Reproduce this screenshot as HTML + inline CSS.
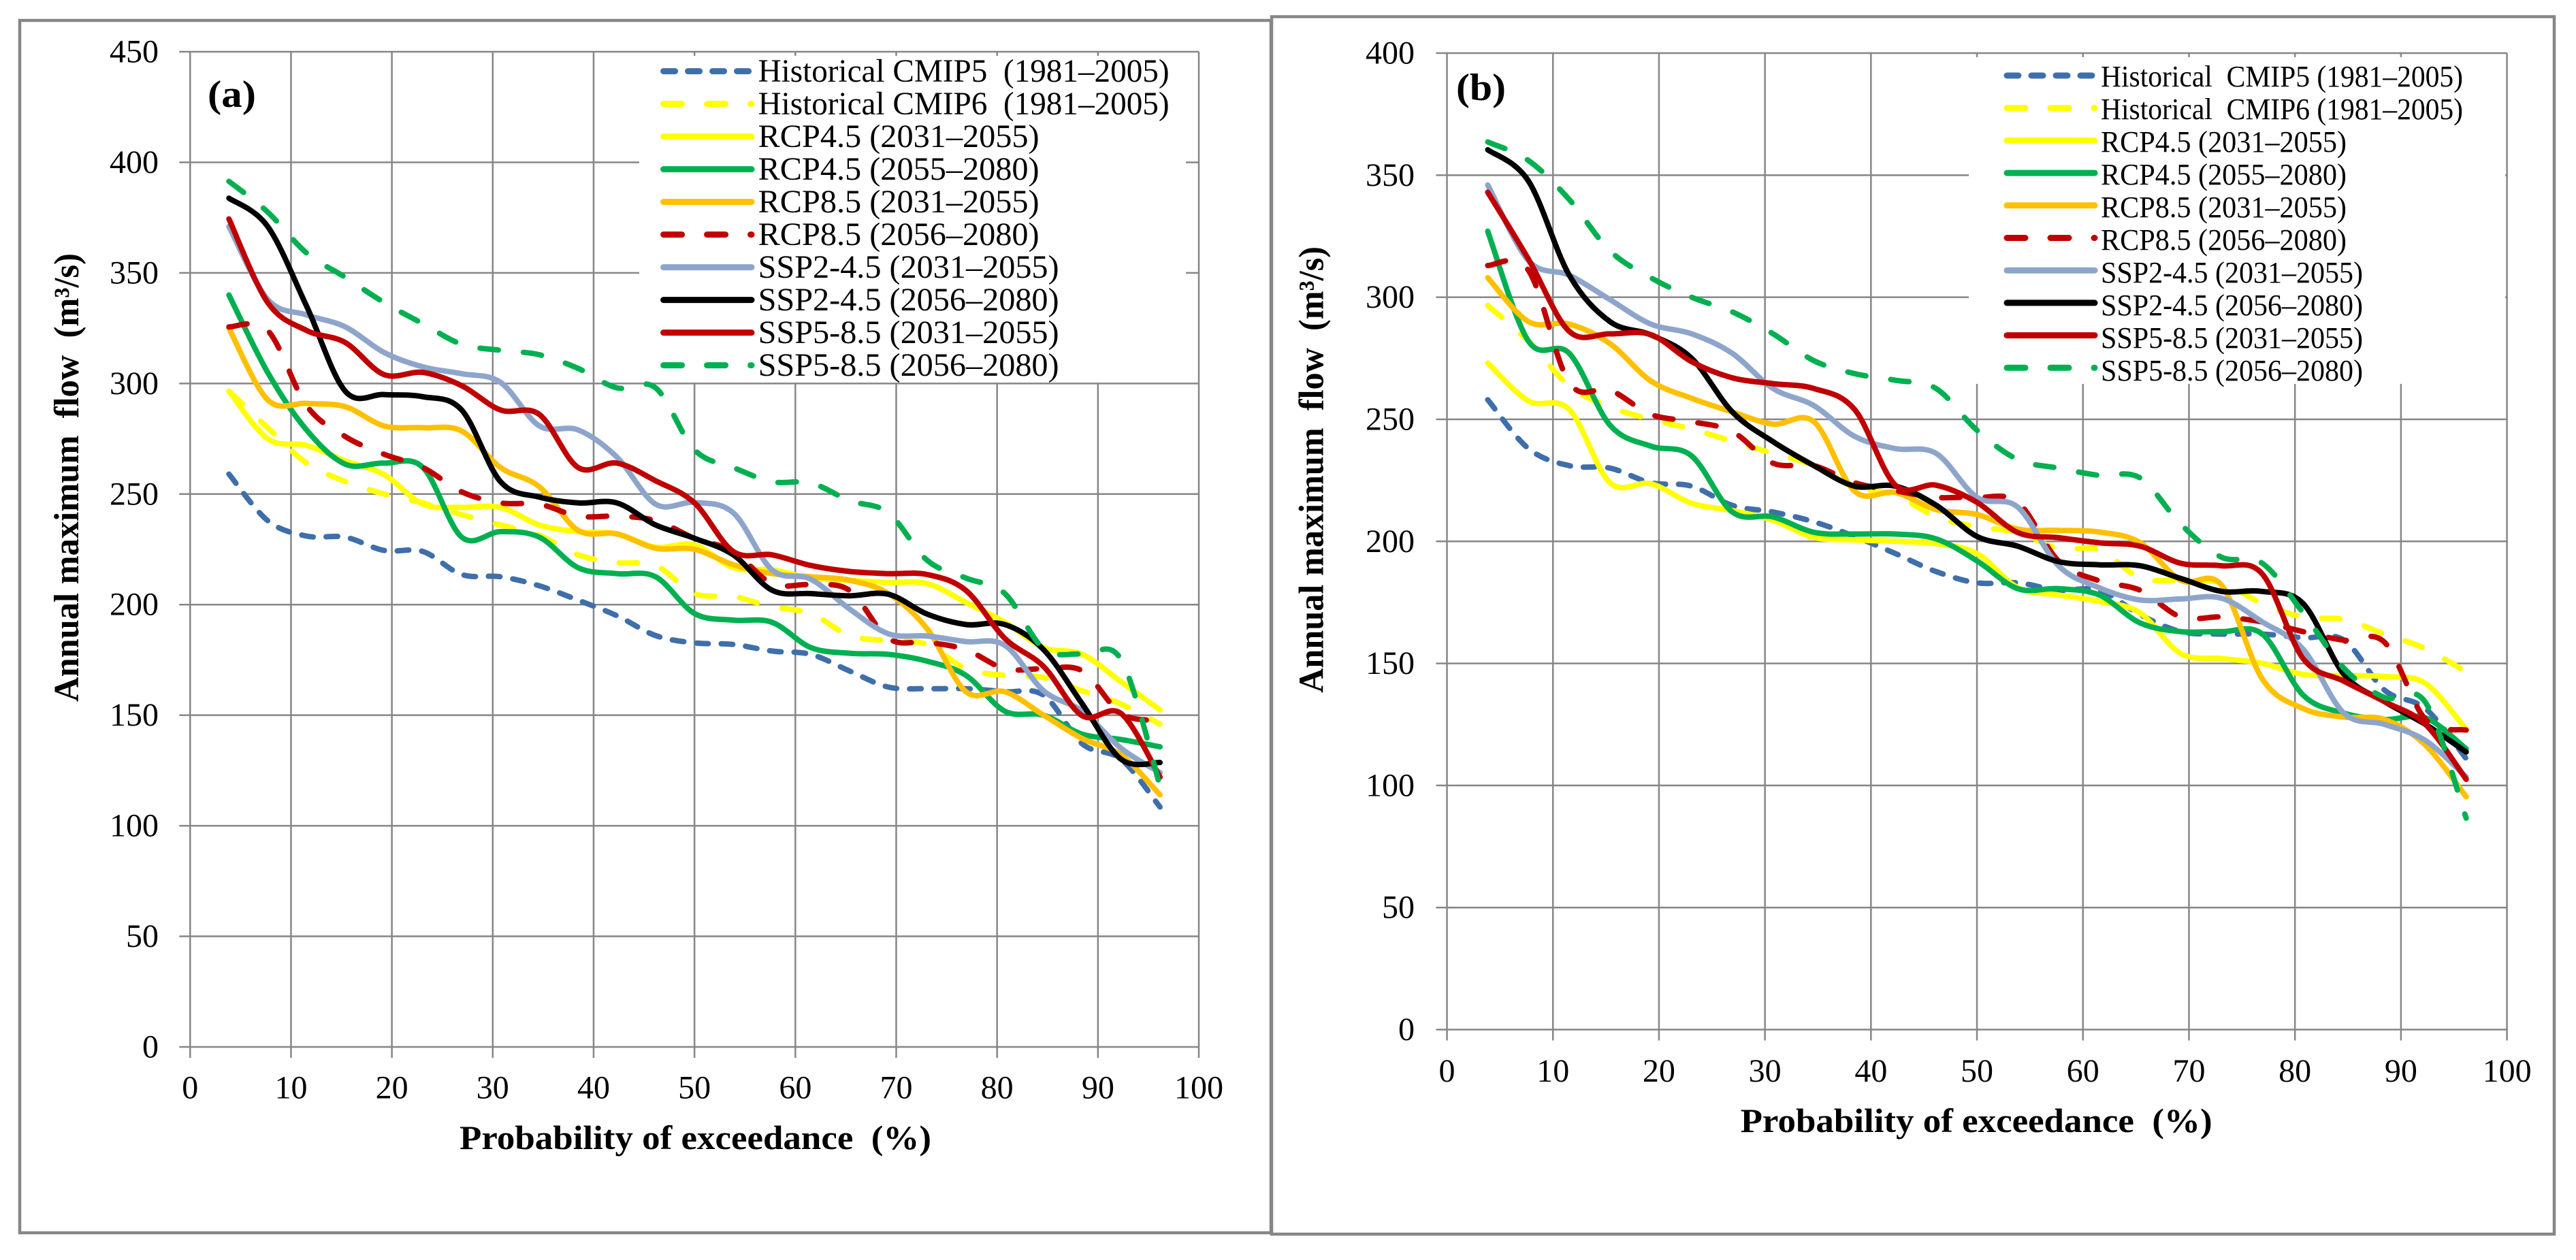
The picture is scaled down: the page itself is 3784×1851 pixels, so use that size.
<!DOCTYPE html>
<html lang="en">
<head>
<meta charset="utf-8">
<title>Annual maximum flow vs probability of exceedance</title>
<style>
html,body{margin:0;padding:0;background:#fff;}
svg{display:block;}
text{font-family:"Liberation Serif","Times New Roman",serif;fill:#000;white-space:pre;}
</style>
</head>
<body>
<svg id="figure" xmlns="http://www.w3.org/2000/svg" width="3784" height="1851" viewBox="0 0 3784 1851"></svg>
<script>
// Shared categories and ticks
const probabilities = [3.85,7.69,11.54,15.38,19.23,23.08,26.92,30.77,34.62,38.46,42.31,46.15,50,53.85,57.69,61.54,65.38,69.23,73.08,76.92,80.77,84.62,88.46,92.31,96.15];
const xTickLabels = [0,10,20,30,40,50,60,70,80,90,100];
const yTickLabelsA = [0,50,100,150,200,250,300,350,400,450];
const yTickLabelsB = [0,50,100,150,200,250,300,350,400];
const seriesLabelsA = ["Historical CMIP5  (1981–2005)","Historical CMIP6  (1981–2005)","RCP4.5 (2031–2055)","RCP4.5 (2055–2080)","RCP8.5 (2031–2055)","RCP8.5 (2056–2080)","SSP2-4.5 (2031–2055)","SSP2-4.5 (2056–2080)","SSP5-8.5 (2031–2055)","SSP5-8.5 (2056–2080)"];
const seriesLabelsB = ["Historical  CMIP5 (1981–2005)","Historical  CMIP6 (1981–2005)","RCP4.5 (2031–2055)","RCP4.5 (2055–2080)","RCP8.5 (2031–2055)","RCP8.5 (2056–2080)","SSP2-4.5 (2031–2055)","SSP2-4.5 (2056–2080)","SSP5-8.5 (2031–2055)","SSP5-8.5 (2056–2080)"];

// Panel (a) values
const aHist5 = [259,238,231,230.5,224.5,224,213.6,212.6,208.5,202,195,186,182.7,182,179,177.5,170,162.7,162,162,160.6,159,137,130,108.5];
const aHist6 = [296.5,280,264,255.7,250,246,240.7,236,231.3,222.5,219,217.7,205,203.7,199,196,186,183.7,182,171,168,167,161,155,146];
const aRcp45Near = [296.5,275,272,265,258.8,245.4,244,244,236,233,232,226,227,216.7,215.7,212,211,210,209.5,201,192,180.6,177.5,165,152.4];
const aRcp45Far = [340,305,279,263.5,264,262,230.5,233,230.5,216.7,214,212.6,196,193,192,180.6,178,177.5,174.4,168,151.8,150,141.4,139,135.7];
const aRcp85Near = [325,292.6,291,289.5,280.8,280,278.5,262,253.3,233.6,232,225.5,225,218,214,212.6,211,205,189,160.6,160.6,150,139.4,132,114];
const aRcp85Far = [325.6,324,290,276,268,262,251,246,245.4,240,240,238,230,224,209.5,209,206.4,184.7,183,179.6,171,171,170,150.7,147.6];
const aSsp245Near = [371,338,331,325.6,314,307.5,304.4,300.5,280.8,279,266.7,245.4,246.2,241.5,215.7,211.5,198,186.8,185.8,183.3,181.6,161,151.8,135,124];
const aSsp245Far = [383.8,371,335,296.5,295,294,288,255.6,248.6,246,246,236,230,222.5,206.5,205,204,204.7,195.7,191,191,179.6,155,130,128.6];
const aSsp585Near = [374.4,336.6,324,318.5,304,305,299,288,286,262,264,256,246,224,222.5,217.7,215,214,213.6,206.4,184.7,172,149.7,150.7,122];
const aSsp585Far = [391.4,377.5,359,348,336.6,327,317.7,315,313,306.8,298,298,270,262,255.6,255,247,241.5,220,212,205,180,177.5,175,118];

// Panel (b) values
const bHist5 = [258,238,231,230,224,222.6,214.7,212,208,202,195,187.6,183,183,180,180,170,163,162,162,160.5,159.5,139,131.5,111];
const bHist6 = [296.6,282,263.6,255,250,246,241,236,231,222,219,210,206,203.6,197,196.5,185,184,183,174.5,169,168,162,156,146.5];
const bRcp45Near = [273,257.5,254,224,223.6,215.6,212.6,208.6,201.6,200.6,200,199,195,181,178,175.4,170.7,154,152,150,145.5,145,144.6,141.8,123];
const bRcp45Far = [327,282,277,247.6,239,235,212,210,203.7,203,203,201,192,180.6,180.6,178,166.6,163,163,162,137,129.6,127,127.7,115];
const bRcp85Near = [308,290,289,281,265.7,258.6,253,248,249,220.5,220,213,211,205,204.5,203.8,199.5,184,182,143.6,131.5,128,127,116.5,95.4];
const bRcp85Far = [313,311,265,262,252,249,245,232,231,224,220.7,218,218,216,192,183.8,180,169,169,167,163,159.5,158.6,127,122.7];
const bSsp245Near = [346,315,309,299,289,285,277,262.6,255.6,243,238,236,218,214,190,181,176,176.4,176.7,167,155.8,129.6,125,118.4,103.5];
const bSsp245Far = [360.4,347.6,309,290,284.6,275,253,240.8,231,222.6,222.6,214.8,202,198,191.7,190.4,190,184.8,179.5,179.5,174.5,145.5,134.3,125,113.7];
const bSsp585Near = [343,315.6,286,285,284.7,273.6,267,264.6,262.6,254,223,223,216,203.6,201.5,199.4,198,191,190,186.6,152,142.7,134.3,125,102.5];
const bSsp585Far = [363.6,356,340,319,308,300,294,285,274,268.7,266,262.6,245.5,233.5,230,227,226,207,193.5,191,170.7,148,136,134,86.6];

const seriesSlugs = ["historical-cmip5","historical-cmip6","rcp45-2031-2055","rcp45-2055-2080","rcp85-2031-2055","rcp85-2056-2080","ssp245-2031-2055","ssp245-2056-2080","ssp585-2031-2055","ssp585-2056-2080"];
const seriesColors = ["#3F6FAA","#FFFF00","#FFFF00","#00B050","#FFC000","#C00000","#8EA5CB","#000000","#C00000","#00B050"];
const seriesDashes = ["17 19","27 37",null,null,null,"27 37",null,null,null,"27 37"];

const panels = [
  {id:"a",values:[aHist5,aHist6,aRcp45Near,aRcp45Far,aRcp85Near,aRcp85Far,aSsp245Near,aSsp245Far,aSsp585Near,aSsp585Far],
   labels:seriesLabelsA,yTicks:yTickLabelsA,yMax:450,
   frame:[29,30,1838,1781],x0:279.3,x1:1761,y0:1538,yTop:76,
   letter:{x:305,y:157,len:71},yLabelX:233,xLabelY:1613.5,
   xTitle:{x:675,y:1688,len:693},yTitle:{x:115,y:1031,len:659},
   box:[939,82,803,480],
   legend:{x1:974.6,x2:1104,y:104.6,step:48,tx:1113.6,ty:120,tstep:48,fs:48,hist:604,rcp:413,ssp:442}},
  {id:"b",values:[bHist5,bHist6,bRcp45Near,bRcp45Far,bRcp85Near,bRcp85Far,bSsp245Near,bSsp245Far,bSsp585Near,bSsp585Far],
   labels:seriesLabelsB,yTicks:yTickLabelsB,yMax:400,
   frame:[1868,24.5,1884,1788.5],x0:2125.5,x1:3682.6,y0:1512.5,yTop:78,
   letter:{x:2139,y:147,len:73},yLabelX:2078,xLabelY:1589,
   xTitle:{x:2556.6,y:1663,len:693},yTitle:{x:1943.7,y:1018,len:656},
   box:[2892,84,788,480],
   legend:{x1:2948,x2:3077,y:111,step:47.7,tx:3086,ty:127,tstep:48,fs:44,hist:532,rcp:361,ssp:385}}
];

const NS = "http://www.w3.org/2000/svg";
const GRID = "#868686";
const root = document.getElementById("figure");

function mk(tag, attrs, parent) {
  const el = document.createElementNS(NS, tag);
  for (const k in attrs) el.setAttribute(k, attrs[k]);
  parent.appendChild(el);
  return el;
}

function smoothPath(pts) {
  let d = "M" + pts[0][0].toFixed(1) + " " + pts[0][1].toFixed(1);
  for (let i = 0; i < pts.length - 1; i++) {
    const p0 = pts[Math.max(i - 1, 0)], p1 = pts[i], p2 = pts[i + 1], p3 = pts[Math.min(i + 2, pts.length - 1)];
    const c1x = p1[0] + (p2[0] - p0[0]) / 6, c1y = p1[1] + (p2[1] - p0[1]) / 6;
    const c2x = p2[0] - (p3[0] - p1[0]) / 6, c2y = p2[1] - (p3[1] - p1[1]) / 6;
    d += "C" + c1x.toFixed(1) + " " + c1y.toFixed(1) + " " + c2x.toFixed(1) + " " + c2y.toFixed(1) + " " + p2[0].toFixed(1) + " " + p2[1].toFixed(1);
  }
  return d;
}

function drawPanel(p) {
  const xScale = v => p.x0 + (p.x1 - p.x0) * v / 100;
  const yScale = v => p.y0 - (p.y0 - p.yTop) * v / p.yMax;

  const g = mk("g", {}, root);
  
  

  const frame = mk("rect", {x:p.frame[0],y:p.frame[1],width:p.frame[2],height:p.frame[3],fill:"#fff",stroke:GRID,"stroke-width":4.5}, g);
  
  

  p.yTicks.forEach(v => {
    const y = yScale(v);
    const line = mk("line", {x1:p.x0 - 16,x2:p.x1,y1:y,y2:y,stroke:GRID,"stroke-width":2.5}, g);
    
    
    const label = mk("text", {x:p.yLabelX,y:y + 15.5,"font-size":48,"text-anchor":"end"}, g);
    
    
    label.textContent = v;
  });

  xTickLabels.forEach(v => {
    const x = xScale(v);
    const line = mk("line", {x1:x,x2:x,y1:p.yTop,y2:p.y0 + 16,stroke:GRID,"stroke-width":2.5}, g);
    
    
    const label = mk("text", {x:x,y:p.xLabelY,"font-size":48,"text-anchor":"middle"}, g);
    
    
    label.textContent = v;
  });

  const box = mk("rect", {x:p.box[0],y:p.box[1],width:p.box[2],height:p.box[3],fill:"#fff"}, g);
  
  

  p.values.forEach((vals, i) => {
    const pts = vals.map((v, j) => [xScale(probabilities[j]), yScale(v)]);
    const attrs = {d:smoothPath(pts),fill:"none",stroke:seriesColors[i],"stroke-width":8,"stroke-linecap":"round","stroke-linejoin":"round"};
    if (seriesDashes[i]) attrs["stroke-dasharray"] = seriesDashes[i];
    const path = mk("path", attrs, g);
    
    
  });

  const L = p.legend;
  p.labels.forEach((text, i) => {
    const y = L.y + L.step * i;
    const attrs = {x1:L.x1,x2:L.x2,y1:y,y2:y,stroke:seriesColors[i],"stroke-width":9,"stroke-linecap":"round"};
    if (seriesDashes[i]) attrs["stroke-dasharray"] = seriesDashes[i];
    const key = mk("line", attrs, g);
    
    
    const len = text.startsWith("Hist") ? L.hist : (text.startsWith("RCP") ? L.rcp : L.ssp);
    const label = mk("text", {x:L.tx,y:L.ty + L.tstep * i,"font-size":L.fs,textLength:len,lengthAdjust:"spacingAndGlyphs"}, g);
    
    
    label.textContent = text;
  });

  const letter = mk("text", {x:p.letter.x,y:p.letter.y,"font-size":56,"font-weight":"bold",textLength:p.letter.len,lengthAdjust:"spacingAndGlyphs"}, g);
  
  
  letter.textContent = "(" + p.id + ")";

  const xTitle = mk("text", {x:p.xTitle.x,y:p.xTitle.y,"font-size":50,"font-weight":"bold",textLength:p.xTitle.len,lengthAdjust:"spacingAndGlyphs"}, g);
  
  
  xTitle.textContent = "Probability of exceedance  (%)";

  const yTitle = mk("text", {x:0,y:0,transform:"translate(" + p.yTitle.x + " " + p.yTitle.y + ") rotate(-90)","font-size":52,"font-weight":"bold",textLength:p.yTitle.len,lengthAdjust:"spacingAndGlyphs"}, g);
  
  
  yTitle.textContent = "Annual maximum  flow  (m³/s)";
}

panels.forEach(drawPanel);
</script>
</body>
</html>
